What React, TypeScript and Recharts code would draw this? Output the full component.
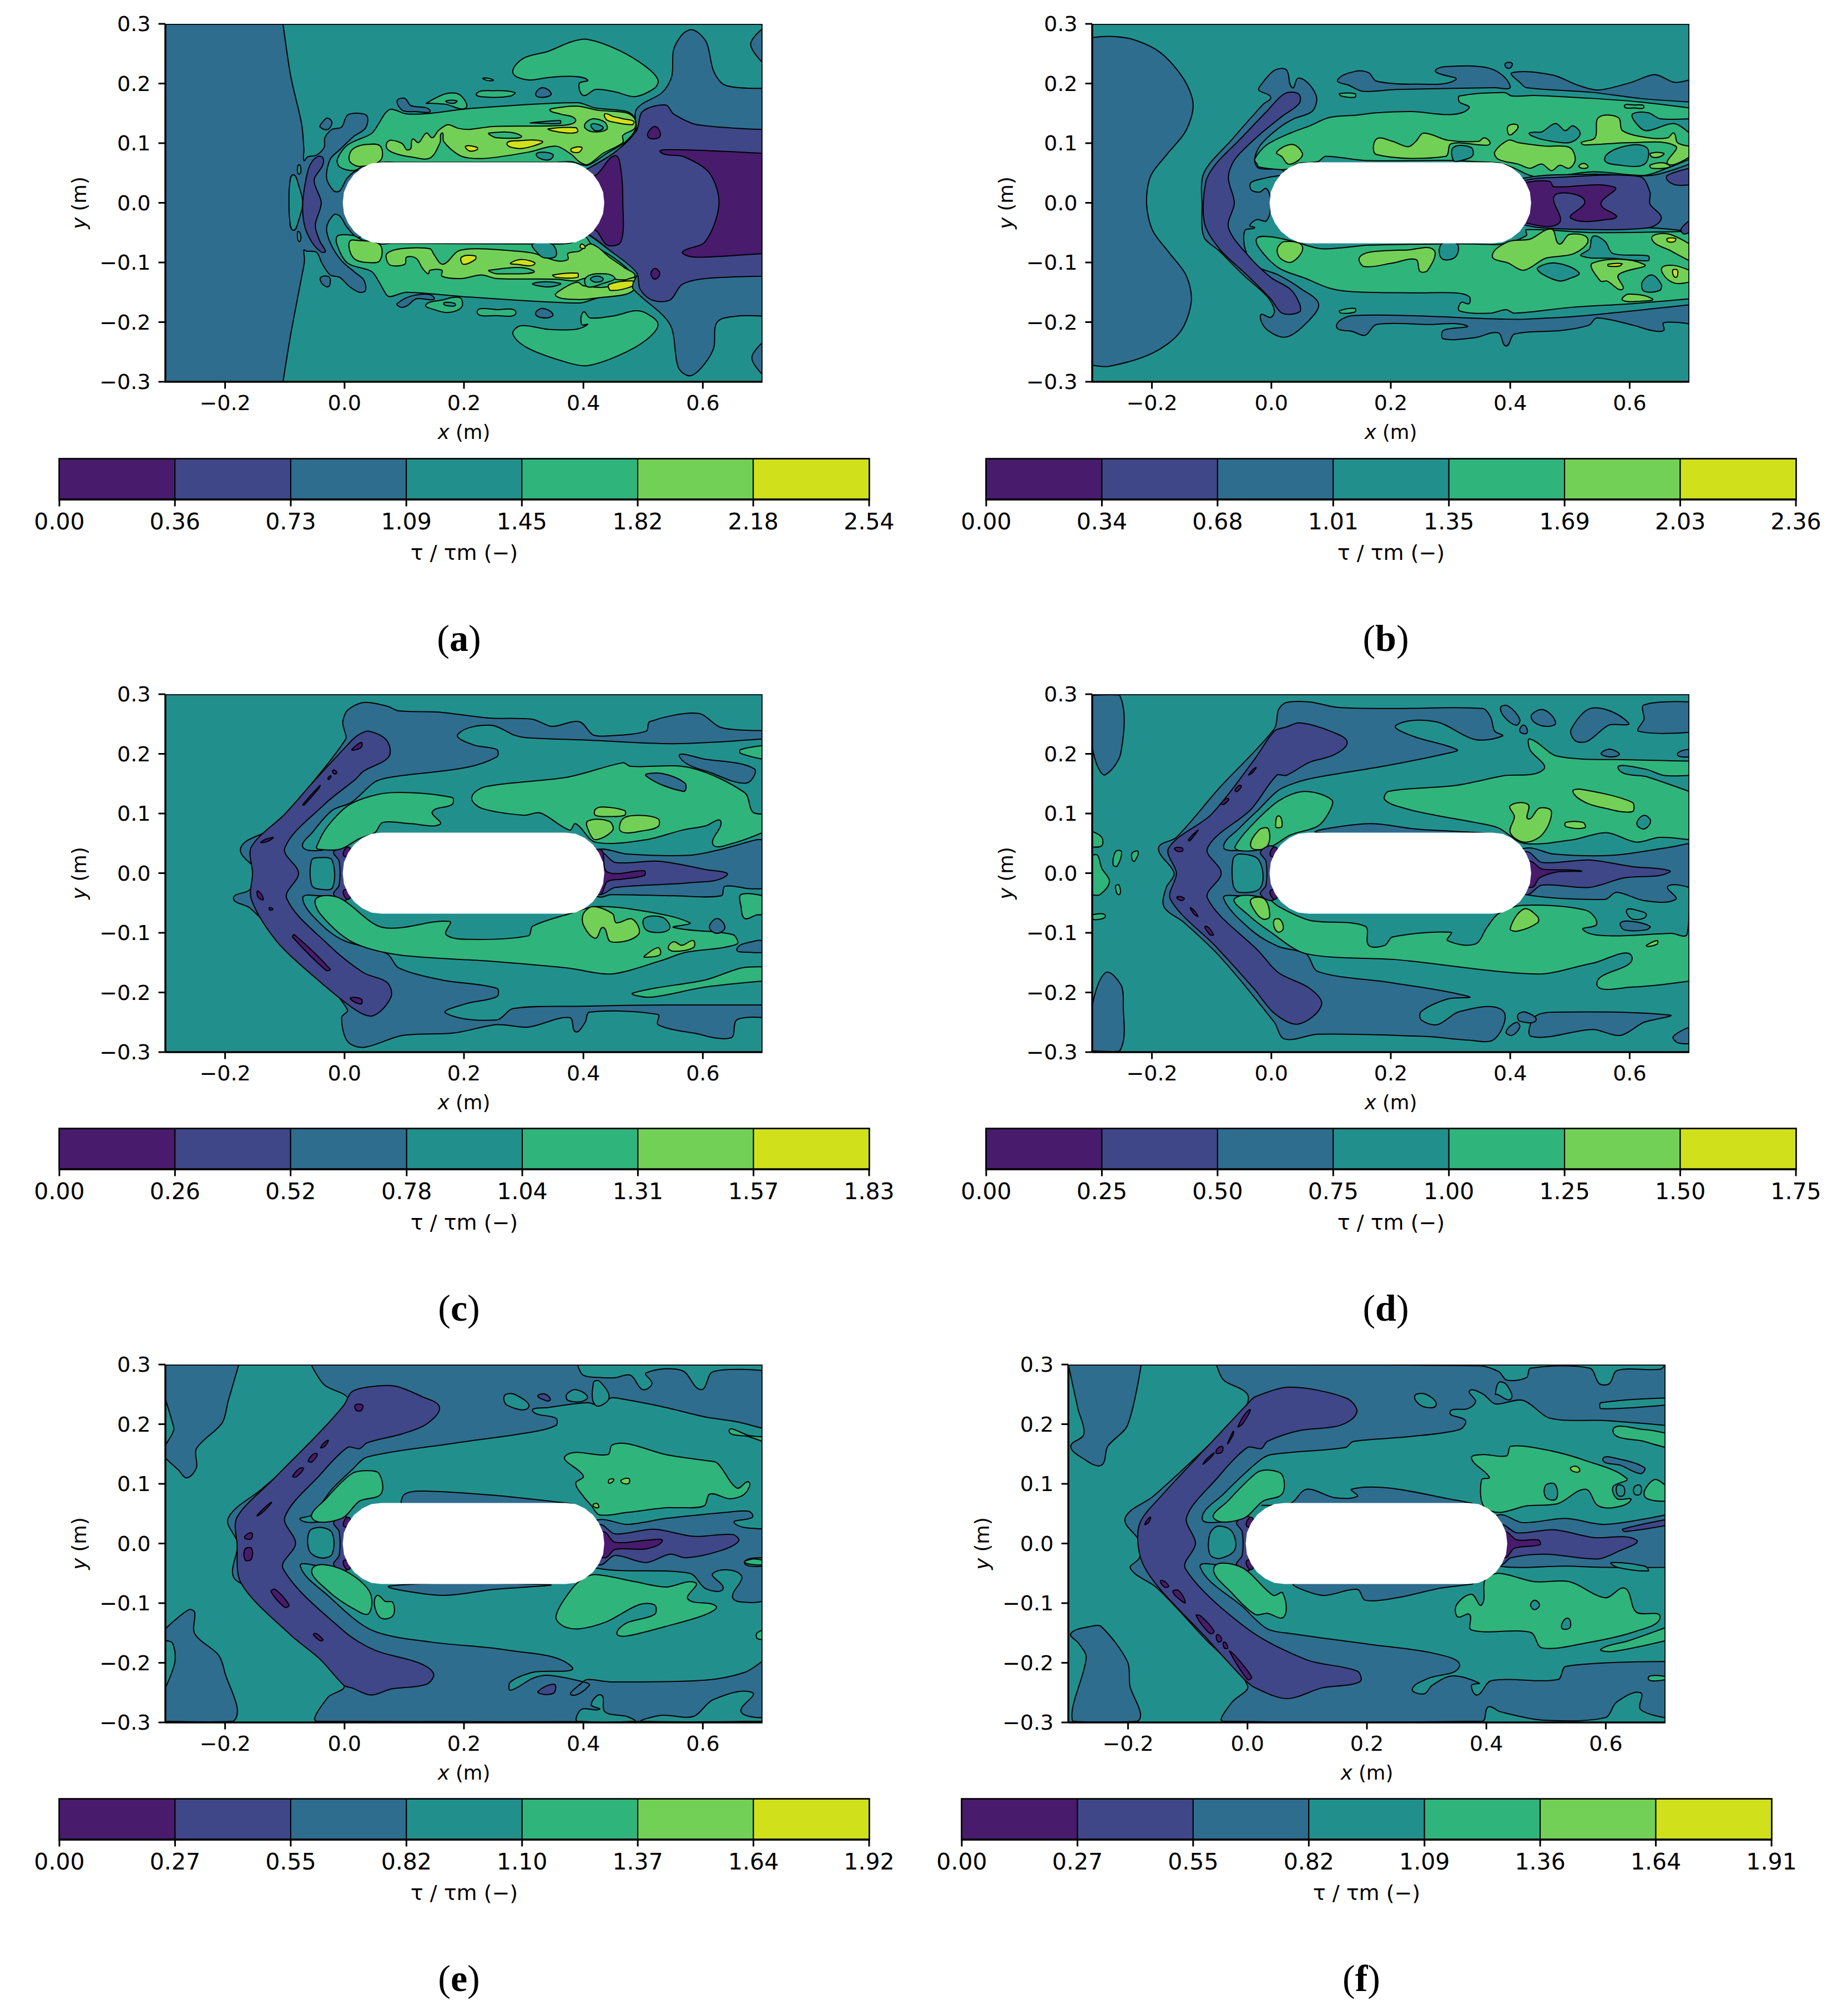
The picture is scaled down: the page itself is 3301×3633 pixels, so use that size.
import React from "react";
import { ScatterChart, Scatter, XAxis, YAxis, BarChart, Bar, ReferenceArea, Label } from "recharts";

type Contour = [number, number[]];
const COLORS = ["#481b6d", "#3f4788", "#2e6d8e", "#21908d", "#2fb47c", "#73d056", "#d0e11c"];
const xTicks = [-0.2, 0, 0.2, 0.4, 0.6];
const yTicks = [-0.3, -0.2, -0.1, 0, 0.1, 0.2, 0.3];
const FRAME = [-300, 300, 700, 300, 700, -300, -300, -300];
const BODY = [62,68,370,68,387,66,402,59,416,48,426,34,433,18,435,0,433,-18,426,-34,416,-48,402,-59,387,-66,370,-68,62,-68,45,-66,30,-59,16,-48,6,-34,-1,-18,-3,0,-1,18,6,34,16,48,30,59,45,66];

const levelsA = [0,0.363,0.727,1.09,1.453,1.817,2.18,2.544];
const levelsB = [0,0.3375,0.675,1.0125,1.35,1.6875,2.025,2.3625];
const levelsC = [0,0.261,0.522,0.784,1.045,1.306,1.567,1.828];
const levelsD = [0,0.25,0.5,0.75,1,1.25,1.5,1.75];
const levelsE = [0,0.274,0.548,0.822,1.096,1.37,1.644,1.918];
const levelsF = [0,0.273,0.546,0.819,1.092,1.365,1.638,1.911];
const labelsA = ["0.00","0.36","0.73","1.09","1.45","1.82","2.18","2.54"];
const labelsB = ["0.00","0.34","0.68","1.01","1.35","1.69","2.03","2.36"];
const labelsC = ["0.00","0.26","0.52","0.78","1.04","1.31","1.57","1.83"];
const labelsD = ["0.00","0.25","0.50","0.75","1.00","1.25","1.50","1.75"];
const labelsE = ["0.00","0.27","0.55","0.82","1.10","1.37","1.64","1.92"];
const labelsF = ["0.00","0.27","0.55","0.82","1.09","1.36","1.64","1.91"];

// contour outlines, [level index, [x mm, y mm, ...]]
const contoursA: Contour[] = [
[2,[-300,300,-103,300,-90,212,-72,133,-68,89,-68,71,-62,77,-47,80,-34,93,-33,109,-21,123,-5,127,5,147,25,150,38,145,35,125,15,111,-8,89,-24,73,-30,42,-18,20,-8,20,5,42,25,54,100,0,25,-58,5,-42,-8,-22,-18,-20,-30,-42,-23,-69,-5,-97,18,-117,32,-129,35,-147,25,-150,9,-141,-8,-125,-24,-121,-38,-101,-47,-83,-64,-81,-68,-79,-67,-97,-72,-125,-90,-220,-103,-300,-300,-300]],
[3,[-86,47,-77,30,-70,0,-77,-30,-86,-46,-92,-26,-93,2,-92,30]],
[3,[-76,64,-73,54,-76,48,-79,55]],
[3,[-77,-48,-73,-58,-76,-65,-79,-55]],
[1,[-44,78,-36,75,-37,62,-51,38,-39,0,-49,-38,-41,-65,-32,-81,-38,-83,-54,-67,-67,-38,-70,0,-64,42,-57,65]],
[2,[-29,142,-21,135,-28,123,-41,127,-37,135]],
[2,[-40,-125,-26,-124,-24,-135,-28,-141,-38,-135]],
[4,[78,157,104,149,144,150,209,158,390,168,420,159,473,153,487,141,487,123,469,101,439,83,407,63,380,69,354,68,209,68,91,68,61,68,31,61,15,54,-8,60,-12,73,5,97,45,116,58,134,68,150]],
[5,[18,93,38,98,60,95,60,71,25,61,9,69,9,83]],
[5,[71,101,78,105,97,99,104,89,111,91,114,107,124,101,137,117,147,109,157,121,173,131,190,125,209,123,249,128,367,130,387,139,361,149,344,155,354,159,390,162,426,155,472,151,486,141,486,125,466,113,466,101,433,83,407,64,393,69,380,81,354,95,308,85,242,75,209,75,190,81,166,103,163,117,160,101,143,75,111,77,84,83,71,91]],
[4,[403,133,416,141,436,135,439,123,416,119,403,125]],
[3,[413,131,426,131,433,125,420,121]],
[6,[436,149,449,145,466,141,484,137,482,131,452,135,439,139]],
[6,[341,124,387,126,390,119,374,117,347,121]],
[6,[272,99,291,104,331,103,315,95,291,91]],
[6,[203,95,222,93,222,89,209,87]],
[6,[380,91,397,93,393,85,380,86]],
[3,[311,134,361,138,361,133,314,134]],
[4,[242,117,295,113,255,109]],
[3,[321,81,331,85,349,81,345,73,331,73]],
[4,[407,274,459,256,505,228,525,206,519,192,486,178,453,186,420,190,400,180,393,200,407,206,380,212,341,210,308,206,282,218,299,242,341,254,380,270]],
[4,[407,-273,459,-256,505,-230,525,-204,505,-185,486,-181,453,-189,411,-193,400,-183,397,-204,407,-204,387,-212,341,-212,295,-206,282,-220,308,-244,374,-268]],
[4,[221,183,249,188,285,185,278,179,242,177]],
[2,[331,193,346,183,334,177,320,181]],
[2,[88,171,101,175,111,163,143,155,117,153,97,155]],
[4,[137,167,170,183,193,181,203,159,170,165,143,167]],
[3,[170,171,188,171,184,167,172,168]],
[4,[232,209,249,206,239,205]],
[2,[331,-177,349,-187,338,-193,320,-187]],
[4,[222,-183,255,-179,287,-184,255,-189]],
[2,[88,-169,117,-155,150,-159,120,-161,104,-173,94,-175]],
[4,[136,-171,163,-163,193,-159,196,-175,173,-184,150,-179]],
[3,[166,-169,176,-167,186,-171,176,-173]],
[4,[78,-157,104,-150,209,-158,393,-168,426,-159,472,-153,489,-141,489,-129,472,-109,446,-89,413,-69,403,-57,380,-67,354,-69,78,-68,61,-69,31,-63,15,-55,-11,-55,-13,-69,5,-101,45,-115,58,-133,71,-155]],
[5,[9,-64,22,-63,59,-70,59,-97,38,-100,18,-95,9,-81]],
[5,[71,-85,94,-77,143,-77,150,-87,165,-103,190,-81,222,-77,288,-81,318,-85,354,-97,374,-95,374,-85,393,-81,413,-69,446,-93,469,-109,486,-123,459,-129,440,-123,400,-127,387,-131,354,-128,255,-127,229,-121,196,-127,163,-123,163,-113,143,-113,140,-119,130,-109,120,-93,104,-91,101,-103,78,-105,71,-97]],
[5,[354,-156,367,-143,390,-133,400,-139,440,-141,487,-125,489,-141,472,-153,426,-159,393,-162]],
[6,[349,-121,390,-118,390,-125,354,-125]],
[6,[443,-137,482,-131,484,-139,446,-147]],
[6,[196,-91,219,-89,219,-95,199,-103]],
[6,[278,-101,298,-95,318,-103,288,-103]],
[6,[397,-69,403,-75,395,-75]],
[4,[403,-127,420,-119,452,-125,433,-135,407,-141]],
[3,[412,-127,426,-123,433,-129,420,-133]],
[4,[242,-113,315,-113,255,-119]],
[3,[316,-135,361,-135,341,-141]],
[3,[315,-69,347,-69,354,-89,334,-92,324,-85]],
[2,[578,290,605,271,618,221,638,197,700,192,700,-190,657,-190,624,-200,618,-244,598,-276,578,-290,559,-276,545,-204,492,-153,482,-141,491,-109,446,-81,407,-53,300,0,407,57,453,85,487,117,489,157,532,185,548,212,552,260]],
[2,[700,292,680,266,700,235]],
[2,[700,-234,682,-260,700,-288]],
[1,[499,153,538,164,551,149,591,131,700,123,700,-123,604,-127,565,-137,545,-163,515,-163,495,-145,489,-117,446,-81,407,-52,300,0,407,57,453,85,489,121]],
[0,[529,85,555,89,700,83,700,-85,604,-91,578,-90,566,-82,604,-65,627,-2,611,50,569,77]],
[0,[420,46,453,79,463,54,466,0,463,-65,440,-71,420,-46,300,0]],
[0,[520,128,528,111,508,111]],
[0,[520,-110,528,-119,520,-128,513,-119]],
];

const contoursB: Contour[] = [
[2,[-300,277,-271,279,-232,274,-186,252,-147,208,-131,165,-143,121,-175,81,-202,45,-209,0,-199,-46,-170,-85,-143,-121,-134,-165,-153,-217,-199,-252,-271,-274,-300,-272]],
[2,[-18,197,5,222,25,223,35,193,45,209,64,198,76,175,68,153,38,141,12,125,-18,97,-28,73,-21,58,22,52,-8,42,-34,34,-34,22,-20,18,-8,24,-1,-2,-8,-30,-24,-28,-36,-38,-28,-42,-44,-46,-44,-77,-28,-105,12,-121,51,-145,79,-169,64,-196,25,-225,-8,-212,-18,-188,-1,-192,5,-180,-8,-156,-47,-121,-87,-81,-113,-57,-116,-6,-113,50,-67,105,-14,165,-1,177,-21,189]],
[1,[22,183,45,183,47,167,18,145,-21,113,-61,73,-72,42,-62,0,-72,-41,-41,-86,-1,-125,32,-145,47,-169,47,-183,18,-185,-1,-161,-41,-121,-87,-77,-112,-34,-110,34,-93,65,-54,105,-8,153]],
[4,[-24,65,-28,73,-8,97,32,117,64,129,97,143,143,147,176,151,236,153,301,148,331,159,315,169,315,179,390,185,403,179,440,180,538,175,617,169,700,159,700,73,663,58,624,46,538,52,459,42,433,46,407,58,380,67,341,69,305,71,157,71,91,78,78,69,45,66,25,56,-21,60]],
[2,[111,206,143,221,163,218,176,204,242,199,308,206,275,220,288,228,367,225,400,195,374,193,209,190,153,187,130,197]],
[2,[403,218,472,214,511,198,547,189,603,202,642,215,675,202,700,206,700,169,617,175,538,185,427,193,417,201]],
[5,[176,107,203,103,229,94,242,103,255,117,295,105,347,103,357,109,366,99,351,97,301,99,292,78,176,81]],
[5,[9,85,35,98,52,83,45,71,28,65,18,77]],
[5,[374,85,397,105,413,101,459,95,499,93,509,73,499,58,483,63,469,54,453,65,433,58,413,65,380,73]],
[3,[432,117,453,119,476,133,492,121,505,129,517,115,499,101,459,105,439,111]],
[5,[397,129,413,129,403,115,397,115]],
[5,[519,101,542,109,548,143,581,143,588,121,631,109,664,109,674,117,680,101,700,95,700,77,664,65,677,95,604,101,525,97]],
[3,[605,149,631,151,651,141,700,141,700,117,674,133,627,121,608,137]],
[3,[558,73,585,93,628,93,625,65,585,63]],
[5,[635,83,657,83,650,77,637,77]],
[5,[634,63,657,67,667,60,637,58]],
[5,[515,62,524,66,530,60,520,58]],
[3,[305,93,334,93,337,79,318,71,305,71]],
[4,[-24,-59,-1,-57,38,-65,84,-77,163,-71,275,-69,341,-69,387,-69,427,-55,427,-45,538,-50,700,-48,700,-161,605,-169,505,-175,407,-185,393,-179,367,-185,315,-181,318,-167,331,-169,331,-157,308,-151,242,-151,137,-149,97,-143,58,-127,12,-109,-21,-75]],
[3,[285,-69,311,-69,308,-91,285,-93]],
[5,[147,-93,163,-83,229,-79,272,-79,262,-113,249,-115,242,-95,203,-101,156,-107]],
[5,[10,-77,22,-65,52,-73,35,-99,15,-93]],
[5,[370,-89,397,-65,433,-61,469,-44,482,-69,499,-53,530,-61,507,-85,459,-93,423,-113,397,-101]],
[3,[446,-109,476,-101,515,-117,499,-127,482,-131,453,-119]],
[5,[538,-101,624,-103,581,-121,588,-145,562,-131,551,-131]],
[6,[564,-103,587,-102,583,-106,564,-106]],
[3,[533,-77,539,-56,559,-65,572,-85,631,-89,631,-97,572,-93,519,-89]],
[5,[637,-60,664,-52,700,-69,700,-97,670,-81]],
[6,[663,-60,677,-60,675,-65,664,-65]],
[5,[654,-109,674,-105,700,-113,700,-133,677,-135,660,-125]],
[6,[672,-113,680,-113,677,-125]],
[3,[621,-133,637,-121,653,-137,650,-147,624,-148]],
[5,[588,-163,598,-153,638,-161,617,-165]],
[2,[109,-207,137,-189,393,-195,427,-195,526,-189,700,-171,700,-203,657,-201,657,-214,637,-214,605,-205,545,-193,532,-205,486,-214,407,-220,393,-240,380,-218,341,-226,288,-228,288,-214,327,-206,262,-204,176,-204,157,-222,137,-216]],
[4,[114,183,140,183,140,177,117,179]],
[4,[114,-181,140,-177,140,-183,117,-185]],
[4,[591,162,608,164,624,161,608,159]],
[2,[392,234,403,234,400,226,393,227]],
[2,[427,42,538,48,637,46,700,65,700,-48,637,-42,538,-44,427,-34,300,0]],
[1,[427,38,463,42,617,44,634,18,634,-2,653,-26,630,-42,492,-44,427,-38,300,0]],
[0,[427,34,466,36,473,27,575,26,552,-2,578,-22,572,-27,502,-26,525,2,499,16,473,10,482,-34,427,-34,300,0]],
[1,[663,46,700,58,700,30,677,30,663,38]],
[1,[686,-44,700,-30,700,-50,690,-52]],
];

const contoursC: Contour[] = [
[2,[-3,254,5,273,32,286,71,280,91,272,157,270,242,260,315,258,347,246,393,254,416,232,440,230,505,238,511,254,592,268,631,244,700,239,700,225,551,217,407,223,305,227,285,231,245,248,190,233,216,215,255,207,255,195,203,177,78,161,51,153,12,119,-21,105,-54,68,-70,44,-41,38,-1,46,12,0,-1,-42,-41,-38,-70,-42,-38,-87,-1,-113,71,-135,91,-159,163,-179,255,-193,255,-207,203,-219,170,-235,255,-246,282,-227,400,-223,538,-221,700,-221,700,-242,657,-246,647,-276,584,-268,525,-254,525,-237,410,-233,403,-250,387,-266,377,-242,308,-258,255,-254,183,-268,97,-272,32,-292,5,-282,-5,-242,5,-229,-47,-167,-93,-123,-159,-58,-186,-42,-159,-28,-146,0,-174,42,-120,76,-61,143,2,225,-1,242]],
[1,[41,238,71,222,74,195,32,171,18,157,-34,115,-100,42,-77,0,-97,-42,-28,-119,32,-167,71,-183,78,-207,48,-239,18,-229,-54,-171,-113,-115,-156,-44,-154,0,-156,44,-100,99,-54,151,5,215,22,231]],
[0,[12,207,28,219,28,211,15,206]],
[0,[10,-209,28,-211,28,-219,15,-215]],
[0,[-70,115,-41,147,-44,141,-68,114]],
[0,[-28,159,-23,163,-26,157]],
[0,[-18,173,-13,169,-16,166,-20,170]],
[0,[-140,52,-120,60,-127,54]],
[0,[-84,-103,-24,-161,-31,-163,-87,-107]],
[0,[-145,-30,-136,-44,-145,-40]],
[0,[-126,-58,-120,-60,-125,-62]],
[1,[-18,36,4,44,10,0,4,-44,-18,-36,-9,-20,-9,20]],
[3,[-55,22,-41,26,-21,22,-20,-24,-41,-27,-55,-20]],
[4,[-47,44,-28,79,12,117,78,135,180,127,180,115,147,103,160,82,111,83,64,85,51,68,25,58,-8,40,-44,40]],
[4,[213,127,236,145,374,161,466,185,479,179,578,177,670,135,683,103,700,99,700,68,650,50,617,48,630,87,604,79,565,72,505,56,420,52,387,83,377,72,328,101,301,97,229,109]],
[2,[505,163,532,167,570,151,568,137]],
[2,[561,195,604,191,686,175,673,151,617,167]],
[5,[420,107,433,111,469,105,469,97,440,95,420,97]],
[5,[407,87,443,87,449,72,420,56,410,68]],
[5,[466,91,492,97,525,91,525,78,499,71,463,70]],
[4,[663,207,700,214,700,191,663,201]],
[4,[-47,-42,-8,-42,64,-91,176,-81,170,-103,209,-111,308,-105,315,-89,380,-67,420,-56,492,-62,578,-83,551,-91,650,-103,657,-119,570,-133,529,-147,446,-169,374,-159,236,-147,91,-137,12,-115,-41,-68]],
[3,[502,-76,532,-74,545,-91,532,-99,505,-95]],
[5,[400,-68,416,-56,449,-68,455,-83,482,-77,492,-103,446,-115,433,-91,420,-109,400,-87]],
[5,[502,-139,525,-125,528,-137,502,-141]],
[5,[542,-125,551,-115,565,-121,584,-113,584,-125,551,-131]],
[4,[483,-201,604,-179,664,-159,700,-157,700,-181,604,-191,512,-208]],
[4,[664,-36,700,-38,700,-70,690,-70,670,-76,664,-56]],
[2,[611,-91,624,-76,637,-91,624,-101]],
[2,[657,-127,690,-113,700,-113,700,-133,683,-133]],
[2,[427,40,473,32,578,30,631,40,690,56,700,56,700,-26,677,-26,637,-22,631,-38,551,-38,446,-36,427,-40,300,0]],
[1,[427,36,453,18,526,20,604,6,640,-4,578,-16,453,-24,427,-36,300,0]],
[0,[427,40,440,2,502,4,502,-4,466,-10,440,-14,427,-36,300,0]],
[0,[-2,30,6,44,10,30]],
[0,[-2,-30,6,-44,10,-30]],
];

const contoursD: Contour[] = [
[2,[-300,298,-254,298,-252,202,-278,165,-291,179,-300,211]],
[2,[-278,-167,-252,-187,-248,-219,-254,-298,-300,-298,-300,-223]],
[4,[-300,70,-284,60,-284,46,-300,44]],
[4,[-300,30,-291,30,-284,8,-271,-14,-287,-36,-300,-36]],
[4,[-261,36,-251,36,-258,12,-265,14]],
[4,[-233,34,-223,36,-229,20,-233,22]],
[4,[-261,-22,-255,-20,-255,-36]],
[4,[-300,-70,-278,-71,-297,-78]],
[2,[12,274,25,286,64,287,111,278,209,276,354,276,367,262,374,238,387,230,341,224,275,254,209,248,236,230,311,207,295,201,197,181,78,161,45,153,12,139,-21,107,-54,75,-80,44,-54,38,-1,44,12,0,-1,-42,-54,-38,-80,-42,-34,-95,12,-123,58,-135,78,-165,197,-183,331,-207,295,-211,251,-232,251,-246,278,-254,315,-232,387,-230,374,-278,331,-280,262,-274,78,-270,22,-278,5,-250,-87,-139,-146,-83,-180,-56,-176,-24,-163,0,-189,42,-159,60,-87,143,5,242]],
[1,[25,245,48,252,104,236,127,219,104,198,64,186,25,164,9,164,-34,107,-107,42,-84,0,-107,-42,-21,-131,12,-167,64,-193,84,-221,45,-253,5,-235,-28,-195,-93,-123,-169,-44,-159,0,-172,42,-100,99,-28,191,5,238]],
[0,[-139,56,-123,72,-127,66,-137,54]],
[0,[-135,-58,-123,-72,-130,-68]],
[0,[-110,-89,-97,-103,-103,-103]],
[0,[-162,42,-149,42,-149,37,-158,37]],
[0,[-158,-40,-146,-42,-151,-46]],
[0,[-38,165,-26,177,-31,169]],
[0,[-61,139,-51,147,-57,137]],
[0,[-84,117,-72,125,-80,115]],
[2,[384,278,397,280,416,258,410,248,390,262]],
[2,[436,266,456,274,476,252,459,246,439,254]],
[2,[502,241,538,277,598,252,565,248,529,221,509,222]],
[2,[624,282,700,287,700,236,615,238,624,258]],
[2,[553,199,566,208,582,198]],
[2,[680,199,700,208,700,195]],
[2,[416,238,423,248,428,235]],
[4,[433,225,479,196,604,190,700,188,700,56,650,60,611,52,561,68,505,56,423,50,380,76,341,85,275,97,222,109,190,123,196,137,308,147,387,163,456,174,433,207]],
[3,[581,175,624,175,657,164,700,164,700,137,631,161]],
[5,[505,137,522,140,604,119,604,103,558,109,525,119]],
[5,[400,113,430,115,430,91,449,109,469,103,453,64,423,52,400,68,407,95]],
[5,[493,85,522,85,525,76,493,78]],
[3,[612,83,624,97,635,87,624,74]],
[4,[-54,38,-61,44,-34,79,12,121,55,137,101,123,97,103,78,79,32,64,-1,44,-28,38]],
[5,[-34,44,-21,72,-5,74,-8,44]],
[5,[7,79,12,96,18,79,10,76]],
[2,[78,68,163,83,242,74,354,66]],
[3,[-64,24,-54,32,-21,22,-18,-24,-54,-32,-64,-20]],
[2,[427,42,473,32,572,30,670,44,700,50,700,-24,664,-22,677,-44,624,-46,578,-32,559,-44,427,-36,300,0]],
[1,[427,36,453,18,532,22,604,11,667,4,650,-4,591,-8,532,-24,453,-20,427,-36,300,0]],
[0,[433,20,453,7,518,4,479,2,449,-8,436,-24,300,0]],
[4,[-61,-42,-8,-42,12,-56,64,-79,157,-89,163,-121,190,-121,203,-107,301,-99,295,-113,341,-119,361,-91,380,-68,420,-54,526,-62,545,-85,522,-95,565,-105,670,-101,696,-103,700,-42,700,-181,604,-191,545,-185,604,-141,538,-151,446,-169,209,-145,58,-135,-1,-99,-41,-68]],
[5,[-34,-44,-11,-44,-3,-73,-14,-77,-28,-63]],
[5,[5,-78,15,-78,20,-93,12,-99,5,-91]],
[5,[400,-93,423,-60,446,-73,446,-83,413,-97]],
[5,[628,-121,646,-113,646,-119,630,-123]],
[3,[595,-62,611,-62,628,-71,605,-77]],
[2,[585,-83,605,-81,634,-89,628,-95,591,-95]],
[2,[440,-242,473,-233,667,-238,624,-250,584,-272,538,-262,436,-274]],
[2,[413,-237,426,-233,443,-247,416,-248]],
[2,[393,-266,410,-250,416,-258,403,-272]],
[2,[673,-274,700,-258,700,-286,680,-284]],
[1,[-18,36,4,44,10,0,4,-44,-18,-36,-9,-20,-9,20]],
[0,[-2,30,6,44,10,30]],
[0,[-2,-30,6,-44,10,-30]],
];

const contoursE: Contour[] = [
[2,[-300,300,-177,300,-195,238,-205,202,-248,159,-248,127,-264,110,-278,123,-300,143]],
[3,[-300,242,-288,202,-286,190,-300,165]],
[2,[-300,-143,-261,-111,-251,-115,-251,-151,-211,-187,-201,-214,-186,-298,-300,-298]],
[3,[-300,-163,-288,-167,-284,-198,-300,-242]],
[2,[-56,300,-34,266,-1,250,5,242,-21,198,-74,147,-139,91,-195,42,-179,0,-186,-56,-146,-79,-67,-163,-1,-238,-28,-258,-46,-298,700,-298,700,-197,670,-216,604,-229,446,-232,407,-228,397,-234,380,-254,410,-238,400,-232,341,-221,315,-226,278,-246,278,-232,315,-216,380,-206,275,-179,143,-165,45,-145,-28,-87,-74,-38,-41,-38,-1,-42,12,0,-1,44,-41,36,-74,40,-54,48,-21,91,12,123,38,145,176,167,315,187,354,198,354,210,315,222,341,228,407,236,426,232,446,244,466,242,538,228,604,212,657,204,700,193,700,290,617,288,597,258,565,290,505,286,515,268,499,258,479,282,453,278,433,278,400,282,390,300]],
[3,[268,248,285,250,308,228,272,232]],
[3,[372,250,387,258,407,246,397,238,374,240]],
[3,[417,270,427,272,443,244,420,232]],
[3,[390,-298,397,-278,427,-278,413,-270,430,-254,436,-282,473,-290,486,-298]],
[3,[498,-298,532,-288,584,-290,617,-262,683,-250,664,-282,700,-292,700,-298]],
[2,[427,40,473,32,538,42,637,52,677,54,683,44,653,34,700,25,700,-24,670,-32,700,-38,700,-97,680,-99,650,-91,664,-53,617,-50,634,-76,605,-76,578,-50,427,-42,300,0]],
[1,[427,32,453,16,518,24,584,12,650,15,660,4,630,-12,572,-24,545,-18,505,-32,453,-20,427,-36,300,0]],
[0,[433,20,453,2,512,6,532,4,505,-9,453,-10,436,-24,300,0]],
[1,[12,254,38,262,84,264,130,246,159,228,137,200,97,184,38,169,25,159,5,161,-41,115,-100,44,-82,0,-103,-42,-1,-147,51,-179,124,-200,149,-218,137,-236,78,-244,44,-254,12,-242,-1,-238,-41,-194,-93,-151,-173,-67,-180,0,-180,44,-120,107,-41,187,-1,232]],
[0,[18,232,30,232,28,223,20,223]],
[0,[-40,161,-28,173,-33,163]],
[0,[-61,139,-47,151,-54,137]],
[0,[-87,113,-70,127,-80,112]],
[0,[-146,48,-123,69,-133,56,-146,46]],
[0,[-167,12,-156,18,-156,8,-166,8]],
[0,[-167,-10,-156,-8,-156,-26,-166,-28]],
[0,[-123,-81,-116,-77,-93,-103,-100,-107]],
[0,[-51,-151,-36,-161,-41,-163]],
[1,[-18,36,4,44,10,0,4,-44,-18,-36,-9,-20,-9,20]],
[3,[-59,20,-41,27,-21,18,-21,-18,-41,-24,-59,-12]],
[4,[-54,42,-31,75,12,117,38,122,58,117,61,83,25,71,-5,42]],
[4,[-54,-42,-8,-42,41,-79,41,-117,18,-111,-28,-79]],
[4,[55,-87,68,-97,81,-99,81,-121,61,-125,50,-103]],
[2,[97,66,101,83,130,88,249,81,361,69,380,66]],
[2,[78,-71,163,-87,249,-77,341,-69]],
[4,[370,147,441,149,448,165,475,167,538,149,604,139,624,135,657,93,677,103,670,83,645,75,612,83,602,63,558,60,538,60,473,52,427,48,413,64,400,79,387,101,400,113]],
[5,[443,107,451,107,443,101]],
[5,[463,106,476,109,476,101,466,101]],
[5,[416,64,423,67,425,60]],
[4,[644,189,677,181,700,179,700,171,677,179]],
[4,[420,-52,486,-64,538,-73,588,-66,575,-93,622,-105,605,-119,538,-139,473,-155,456,-151,473,-133,519,-119,519,-103,492,-103,439,-131,393,-143,367,-139,354,-123,374,-85,397,-60]],
[4,[690,-151,700,-145,700,-161,691,-159]],
[4,[670,-32,683,-26,700,-28,700,-36]],
[1,[324,248,337,250,344,240,331,242]],
[1,[324,-248,351,-236,351,-250,334,-253]],
[0,[-2,30,6,44,10,30]],
[0,[-2,-30,6,-44,10,-30]],
];

const contoursF: Contour[] = [
[2,[-300,300,-178,300,-201,198,-234,163,-245,131,-276,143,-296,163,-274,183,-284,226]],
[2,[-296,-151,-263,-139,-245,-139,-201,-198,-197,-238,-184,-298,-293,-298,-270,-191,-283,-167]],
[2,[-52,300,-40,274,0,250,-7,222,-46,183,-105,127,-158,79,-205,42,-181,4,-181,-24,-196,-42,-151,-75,-72,-159,0,-238,-26,-266,-41,-298,393,-298,403,-274,423,-282,493,-296,599,-292,618,-266,658,-250,658,-278,700,-292,700,-198,533,-206,520,-228,408,-230,385,-254,375,-238,388,-234,342,-222,309,-238,296,-252,276,-244,303,-226,355,-206,316,-185,204,-169,72,-151,33,-143,-7,-107,-79,-40,-33,-38,0,-40,7,0,0,40,-40,36,-76,42,-40,83,20,139,40,149,164,161,177,171,270,179,355,191,365,206,339,220,369,226,382,238,372,256,395,250,415,234,461,240,507,210,599,206,700,198,700,300,691,292,619,290,606,268,589,268,573,294,474,294,467,278,434,274,421,288,388,298]],
[3,[280,247,299,250,316,232,293,230]],
[3,[592,236,700,244,700,232,592,226]],
[3,[415,250,421,270,434,266,441,242,418,250]],
[4,[375,143,395,149,434,147,441,163,500,157,566,139,635,109,612,95,619,75,642,73,612,60,586,64,566,91,520,67,467,63,421,52,395,63,392,107,405,111]],
[4,[665,79,681,107,700,97,700,71]],
[4,[612,189,665,191,700,185,700,161,665,171]],
[2,[595,141,625,141,665,127,658,117,625,131]],
[3,[499,97,515,99,517,75,500,77]],
[3,[619,97,630,95,630,81,620,81]],
[3,[648,95,658,97,658,83,648,83]],
[5,[541,127,552,129,556,121,545,121]],
[4,[421,-50,480,-64,539,-64,599,-91,632,-75,651,-115,691,-123,651,-147,566,-167,493,-175,474,-149,375,-145,372,-119,352,-123,350,-103,375,-85,392,-103,398,-60]],
[3,[474,-103,481,-95,489,-103,481,-111]],
[3,[526,-141,536,-125,540,-141]],
[4,[592,-177,638,-163,700,-141,700,-163,612,-181]],
[4,[671,-226,700,-223,700,-228]],
[2,[421,48,461,35,533,42,599,32,700,48,700,-40,599,-40,533,-38,421,-38,300,0]],
[3,[609,-32,665,-38,671,-46,619,-40]],
[1,[424,32,451,18,513,23,579,10,651,6,619,-14,586,-26,500,-18,441,-24,424,-36,300,0]],
[0,[431,20,451,6,487,6,490,-2,447,-8,431,-24,300,0]],
[1,[628,24,700,40,700,30,632,20]],
[1,[13,246,72,262,165,244,183,220,155,198,86,189,33,171,23,159,0,161,-53,107,-102,44,-87,0,-104,-42,0,-143,99,-195,184,-214,188,-232,125,-242,66,-260,13,-242,-7,-226,-72,-155,-151,-71,-179,-24,-181,32,-145,79,-59,171,0,234]],
[0,[-16,196,3,224,-7,202]],
[0,[-33,169,-23,187,-33,167]],
[0,[-53,153,-43,163,-43,153]],
[0,[-74,133,-56,151,-69,141]],
[0,[-172,32,-163,44,-165,36]],
[0,[-125,-81,-115,-79,-104,-99,-112,-95]],
[0,[-86,-121,-79,-121,-56,-147,-63,-151]],
[0,[-30,-181,-20,-189,7,-224,0,-228]],
[0,[-51,-153,-43,-161,-49,-165]],
[0,[-39,-165,-33,-175,-39,-175]],
[0,[-145,-62,-132,-71,-139,-73]],
[1,[-18,36,4,44,10,0,4,-44,-18,-36,-9,-20,-9,20]],
[3,[-63,16,-49,29,-26,20,-21,-10,-46,-25,-63,-18]],
[4,[-56,42,-33,71,16,119,36,123,58,115,58,83,26,71,-7,42]],
[4,[-56,-40,-10,-40,43,-87,59,-83,61,-123,33,-117,13,-119,-26,-83]],
[2,[26,64,72,67,99,91,145,77,184,79,174,91,237,93,336,75,375,66]],
[2,[79,-67,125,-87,184,-77,197,-95,250,-91,322,-75,375,-67]],
[0,[-2,30,6,44,10,30]],
[0,[-2,-30,6,-44,10,-30]],
];

const toPts = (a: number[]) => {
  const out: { x: number; y: number }[] = [];
  for (let i = 0; i < a.length; i += 2) out.push({ x: a[i] / 1000, y: a[i + 1] / 1000 });
  return out;
};
const minus = (s: string) => s.replace("-", "\u2212");
const FONT = "DejaVu Sans";
const PW = 1076, PH = 645, ML = 190, MT = 40, MR = 30, MB = 130;

const clampX = (v: number) => Math.min(ML + PW, Math.max(ML, v));
const clampY = (v: number) => Math.min(MT + PH, Math.max(MT, v));
const onEdge = (q: any) => q.x < ML + 1 || q.x > ML + PW - 1 || q.y < MT + 1 || q.y > MT + PH - 1;

const linearPath = (pts: any[]) => pts.map((q, i) => `${i ? "L" : "M"}${q.x},${q.y}`).join("") + "Z";
const smoothPath = (pts: any[]) => {
  const n = pts.length;
  if (n < 3) return linearPath(pts);
  const tan = pts.map((q, i) => {
    if (onEdge(q)) return { x: 0, y: 0 };
    const a = pts[(i - 1 + n) % n], b = pts[(i + 1) % n];
    const dx = b.x - a.x, dy = b.y - a.y, l = Math.hypot(dx, dy) || 1;
    return { x: dx / l, y: dy / l };
  });
  let d = `M${pts[0].x},${pts[0].y}`;
  for (let i = 0; i < n; i++) {
    const p = pts[i], q = pts[(i + 1) % n], t0 = tan[i], t1 = tan[(i + 1) % n];
    const len = Math.hypot(q.x - p.x, q.y - p.y) * 0.3;
    const c1x = clampX(p.x + t0.x * len), c1y = clampY(p.y + t0.y * len);
    const c2x = clampX(q.x - t1.x * len), c2y = clampY(q.y - t1.y * len);
    d += `C${c1x},${c1y} ${c2x},${c2y} ${q.x},${q.y}`;
  }
  return d + "Z";
};
const polyLine = (fill: string, stroke: string, sw: number, smooth: boolean) => (p: any) => (
  <path d={smooth ? smoothPath(p.points) : linearPath(p.points)} fill={fill} stroke={stroke} strokeWidth={sw} strokeLinejoin="round" />
);
const noDot = () => <g />;

function Contours({ left, top, contours }: { left: number; top: number; contours: Contour[] }) {
  const xLabel = (props: any) => {
    const v = props.viewBox;
    return (
      <text x={v.x + v.width / 2} y={v.y + 103} textAnchor="middle" fontSize={35.5} fontFamily={FONT} fill="#000">
        <tspan fontStyle="italic">x</tspan> (m)
      </text>
    );
  };
  const yLabel = (props: any) => {
    const v = props.viewBox;
    const cx = v.x + v.width - 153 + 10, cy = v.y + v.height / 2;
    return (
      <text x={cx} y={cy} transform={`rotate(-90 ${cx} ${cy})`} textAnchor="middle" fontSize={35.5} fontFamily={FONT} fill="#000">
        <tspan fontStyle="italic">y</tspan> (m)
      </text>
    );
  };
  return (
    <div style={{ position: "absolute", left: left - ML, top: top - MT }}>
      <ScatterChart width={PW + ML + MR} height={PH + MT + MB} margin={{ top: MT, right: MR, bottom: 0, left: 0 }}>
        <XAxis type="number" dataKey="x" domain={[-0.3, 0.7]} ticks={xTicks} height={MB} tickSize={12.5} tickMargin={12}
          tickFormatter={(v: number) => minus(v.toFixed(1))} interval={0} allowDataOverflow
          tick={{ fontSize: 38, fill: "#000", fontFamily: FONT }} tickLine={{ stroke: "#000", strokeWidth: 3 }} axisLine={{ stroke: "#000", strokeWidth: 3.5 }}>
          <Label content={xLabel} />
        </XAxis>
        <YAxis type="number" dataKey="y" domain={[-0.3, 0.3]} ticks={yTicks} width={ML} tickSize={12.5} tickMargin={14}
          tickFormatter={(v: number) => minus(v.toFixed(1))} interval={0} allowDataOverflow
          tick={{ fontSize: 38, fill: "#000", fontFamily: FONT }} tickLine={{ stroke: "#000", strokeWidth: 3 }} axisLine={{ stroke: "#000", strokeWidth: 3.5 }}>
          <Label content={yLabel} />
        </YAxis>
        <Scatter data={toPts(FRAME)} dataKey="y" isAnimationActive={false} shape={noDot} line={polyLine(COLORS[3], "none", 0, false)} />
        {contours.map(([lv, pts], i) => (
          <Scatter key={i} data={toPts(pts)} dataKey="y" isAnimationActive={false} shape={noDot} line={polyLine(COLORS[lv], "#000", 2, true)} />
        ))}
        <Scatter data={toPts(BODY)} dataKey="y" isAnimationActive={false} shape={noDot} line={polyLine("#fff", "none", 0, false)} />
        <Scatter data={toPts(FRAME)} dataKey="y" isAnimationActive={false} shape={noDot} line={polyLine("none", "#000", 3.5, false)} />
      </ScatterChart>
    </div>
  );
}

function ColorBar({ left, top, levels, labels }: { left: number; top: number; levels: number[]; labels: string[] }) {
  const W = 1459, H = 73, CL = 70, CR = 70, CT = 4, CB = 120;
  const row: Record<string, number | string> = { name: "cb" };
  COLORS.forEach((_, i) => { row["s" + i] = levels[i + 1] - levels[i]; });
  const fmt = (v: number) => {
    const i = levels.findIndex((l) => Math.abs(l - v) < 1e-9);
    return i >= 0 ? labels[i] : "";
  };
  const cbLabel = (props: any) => {
    const v = props.viewBox;
    return (
      <text x={v.x + v.width / 2} y={v.y + 109} textAnchor="middle" fontSize={38} fontFamily={FONT} fill="#000">{"\u03c4 / \u03c4m (\u2212)"}</text>
    );
  };
  return (
    <div style={{ position: "absolute", left: left - CL, top: top - CT }}>
      <BarChart layout="vertical" data={[row]} width={W + CL + CR} height={H + CT + CB} barCategoryGap={0}
        margin={{ top: CT, right: CR, bottom: 0, left: CL }}>
        <XAxis type="number" domain={[0, levels[7]]} ticks={levels} interval={0} height={CB} tickSize={12.5} tickMargin={12} tickFormatter={fmt} allowDataOverflow
          tick={{ fontSize: 41, fill: "#000", fontFamily: FONT }} tickLine={{ stroke: "#000", strokeWidth: 3 }} axisLine={{ stroke: "#000", strokeWidth: 3.5 }}>
          <Label content={cbLabel} />
        </XAxis>
        <YAxis type="category" dataKey="name" hide width={0} />
        {COLORS.map((c, i) => (
          <Bar key={i} dataKey={"s" + i} stackId="cb" fill={c} stroke="#000" strokeWidth={2} isAnimationActive={false} />
        ))}
        <ReferenceArea x1={0} x2={levels[7]} fill="none" stroke="#000" strokeWidth={3.5} ifOverflow="visible" />
      </BarChart>
    </div>
  );
}

const Caption = ({ cx, y, letter }: { cx: number; y: number; letter: string }) => (
  <div style={{ position: "absolute", left: cx - 100, width: 200, top: y, textAlign: "center", fontFamily: "Liberation Serif", fontSize: 68, lineHeight: "80px", color: "#000" }}>
    (<b>{letter}</b>)
  </div>
);

const PANELS = [
  { l: 297.5, t: 43, cl: 107, ct: 827, cap: 827, capY: 1110, c: contoursA, lv: levelsA, lb: labelsA, n: "a" },
  { l: 1968, t: 43, cl: 1777, ct: 827, cap: 2497, capY: 1110, c: contoursB, lv: levelsB, lb: labelsB, n: "b" },
  { l: 297.5, t: 1251, cl: 107, ct: 2034, cap: 827, capY: 2317, c: contoursC, lv: levelsC, lb: labelsC, n: "c" },
  { l: 1968, t: 1251, cl: 1777, ct: 2034, cap: 2497, capY: 2317, c: contoursD, lv: levelsD, lb: labelsD, n: "d" },
  { l: 297.5, t: 2459, cl: 107, ct: 3242, cap: 827, capY: 3525, c: contoursE, lv: levelsE, lb: labelsE, n: "e" },
  { l: 1925, t: 2459, cl: 1733, ct: 3242, cap: 2453, capY: 3525, c: contoursF, lv: levelsF, lb: labelsF, n: "f" },
];

export default function App() {
  return (
    <div style={{ position: "absolute", left: 0, top: 0, width: 3301, height: 3633, background: "#fff", overflow: "hidden" }}>
      {PANELS.map((p) => (
        <React.Fragment key={p.n}>
          <Contours left={p.l} top={p.t} contours={p.c} />
          <ColorBar left={p.cl} top={p.ct} levels={p.lv} labels={p.lb} />
          <Caption cx={p.cap} y={p.capY} letter={p.n} />
        </React.Fragment>
      ))}
    </div>
  );
}
